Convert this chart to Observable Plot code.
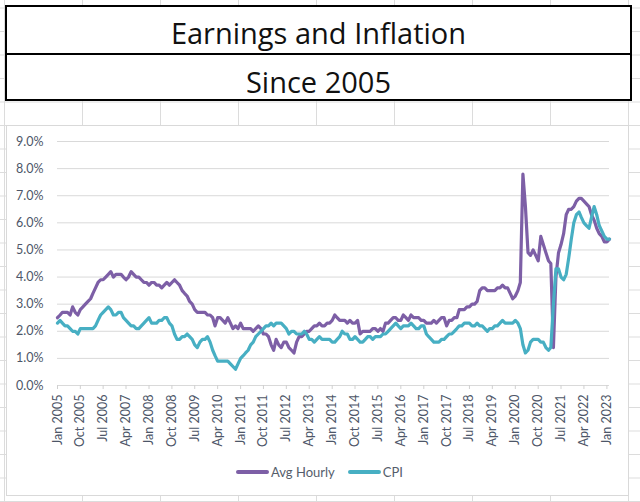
<!DOCTYPE html>
<html>
<head>
<meta charset="utf-8">
<script src="https://cdn.jsdelivr.net/npm/d3@7"></script>
<script src="https://cdn.jsdelivr.net/npm/@observablehq/plot@0.6"></script>
<style>
  html, body { margin: 0; padding: 0; }
  body {
    width: 640px; height: 502px; position: relative; overflow: hidden; background: #fff;
    background-image:
      linear-gradient(to right, #dcdcdc 1px, transparent 1px),
      linear-gradient(to bottom, #dcdcdc 1px, transparent 1px);
    background-size: 78px 23.5px;
    background-position: 4px 7.5px;
  }
  #title {
    position: absolute; left: 5px; top: 5px; width: 623px; height: 92px;
    border: 2px solid #000; background: #fff; font-family: "Open Sans", sans-serif; color: #111;
  }
  #title .row { text-align: center; font-size: 29px; overflow: visible; }
  #t1 { height: 46px; line-height: 52px; }
  #t2 { height: 44px; line-height: 53px; border-top: 2px solid #000; }
  #chart {
    position: absolute; left: 6px; top: 125px; width: 621px; height: 369px;
    background: #fff; border: 1px solid #d9d9d9;
  }
  #plot { position: absolute; left: -1px; top: -1px; }
  #legend {
    position: absolute; left: 236px; top: 464px; display: flex; align-items: center;
    font-family: Lato, sans-serif; font-size: 13px; color: #555d6b;
  }
  .sw { width: 33px; height: 3.5px; border-radius: 2px; margin-right: 2px; }
  .item { display: flex; align-items: center; }
  .item + .item { margin-left: 13px; }
</style>
</head>
<body>
<div id="title">
  <div class="row" id="t1">Earnings and Inflation</div>
  <div class="row" id="t2">Since 2005</div>
</div>
<div id="chart"><div id="plot"></div></div>
<div id="legend"></div>
<script>
// Monthly year-over-year % change, Jan 2005 .. Feb 2023
const startYear = 2005;
const avgHourly = [
  2.5, 2.6, 2.7, 2.7, 2.7, 2.6, 2.9, 2.7, 2.6, 2.8, 2.9, 3.0, // 2005
  3.1, 3.2, 3.4, 3.6, 3.8, 3.9, 3.9, 4.0, 4.1, 4.2, 4.0, 4.1, // 2006
  4.1, 4.1, 4.0, 3.9, 4.0, 4.2, 4.1, 4.0, 4.0, 3.9, 3.8, 3.8, // 2007
  3.7, 3.8, 3.8, 3.7, 3.7, 3.6, 3.7, 3.8, 3.7, 3.8, 3.9, 3.8, // 2008
  3.7, 3.5, 3.4, 3.3, 3.1, 3.0, 2.8, 2.7, 2.7, 2.7, 2.7, 2.6, // 2009
  2.6, 2.5, 2.2, 2.5, 2.5, 2.4, 2.3, 2.5, 2.3, 2.1, 2.2, 2.1, // 2010
  2.3, 2.1, 2.1, 2.1, 2.1, 2.0, 2.1, 2.2, 2.1, 1.9, 1.9, 1.8, // 2011
  1.5, 1.3, 1.7, 1.5, 1.4, 1.6, 1.6, 1.4, 1.3, 1.2, 1.6, 1.8, // 2012
  1.8, 1.9, 2.0, 2.0, 2.1, 2.2, 2.2, 2.3, 2.2, 2.2, 2.3, 2.3, // 2013
  2.4, 2.6, 2.5, 2.4, 2.4, 2.4, 2.3, 2.4, 2.3, 2.3, 2.4, 1.9, // 2014
  2.0, 2.0, 2.0, 2.0, 2.1, 2.1, 2.0, 2.1, 2.0, 2.3, 2.3, 2.4, // 2015
  2.5, 2.5, 2.4, 2.4, 2.6, 2.5, 2.4, 2.6, 2.5, 2.5, 2.5, 2.4, // 2016
  2.4, 2.3, 2.3, 2.3, 2.4, 2.3, 2.4, 2.5, 2.5, 2.2, 2.4, 2.4, // 2017
  2.5, 2.5, 2.8, 2.8, 2.8, 2.9, 2.9, 3.0, 3.0, 3.1, 3.5, 3.6, // 2018
  3.6, 3.5, 3.5, 3.5, 3.5, 3.6, 3.6, 3.7, 3.6, 3.6, 3.4, 3.2, // 2019
  3.3, 3.5, 3.8, 7.8, 6.6, 4.9, 4.8, 5.0, 4.8, 4.6, 5.5, 5.2, // 2020
  4.9, 4.6, 4.5, 1.4, 4.0, 4.9, 5.2, 5.6, 6.3, 6.5, 6.5, 6.6, // 2021
  6.8, 6.9, 6.9, 6.8, 6.7, 6.6, 6.3, 6.1, 5.8, 5.6, 5.5, 5.3, // 2022
  5.3, 5.4                                                    // 2023
];
const cpi = [
  2.3, 2.4, 2.3, 2.2, 2.2, 2.1, 2.0, 2.0, 1.9, 2.1, 2.1, 2.1, // 2005
  2.1, 2.1, 2.1, 2.2, 2.4, 2.6, 2.7, 2.8, 2.9, 2.8, 2.6, 2.6, // 2006
  2.7, 2.7, 2.5, 2.4, 2.3, 2.2, 2.2, 2.1, 2.1, 2.2, 2.3, 2.4, // 2007
  2.5, 2.3, 2.3, 2.3, 2.4, 2.4, 2.5, 2.5, 2.3, 2.2, 1.9, 1.7, // 2008
  1.7, 1.8, 1.8, 1.9, 1.8, 1.7, 1.5, 1.4, 1.6, 1.7, 1.7, 1.8, // 2009
  1.6, 1.3, 1.1, 0.9, 0.9, 0.9, 0.9, 0.9, 0.8, 0.7, 0.6, 0.8, // 2010
  1.0, 1.1, 1.2, 1.3, 1.5, 1.6, 1.8, 1.9, 2.0, 2.1, 2.2, 2.2, // 2011
  2.3, 2.2, 2.3, 2.3, 2.3, 2.2, 2.1, 1.9, 2.0, 2.0, 1.9, 1.9, // 2012
  1.9, 2.0, 1.9, 1.7, 1.7, 1.6, 1.7, 1.8, 1.7, 1.7, 1.7, 1.7, // 2013
  1.6, 1.6, 1.7, 1.8, 2.0, 1.9, 1.9, 1.7, 1.7, 1.8, 1.7, 1.6, // 2014
  1.6, 1.7, 1.8, 1.8, 1.7, 1.8, 1.8, 1.8, 1.9, 1.9, 2.0, 2.1, // 2015
  2.2, 2.3, 2.2, 2.1, 2.2, 2.2, 2.2, 2.3, 2.2, 2.1, 2.1, 2.2, // 2016
  2.2, 1.9, 1.8, 1.7, 1.6, 1.6, 1.6, 1.7, 1.7, 1.8, 1.9, 1.9, // 2017
  2.0, 2.1, 2.2, 2.2, 2.3, 2.3, 2.3, 2.2, 2.2, 2.3, 2.2, 2.2, // 2018
  2.1, 2.0, 2.1, 2.1, 2.2, 2.2, 2.3, 2.4, 2.3, 2.3, 2.3, 2.3, // 2019
  2.4, 2.3, 2.1, 1.5, 1.2, 1.3, 1.6, 1.7, 1.7, 1.7, 1.6, 1.6, // 2020
  1.4, 1.3, 1.4, 3.0, 4.3, 4.3, 4.0, 3.9, 4.1, 4.7, 5.4, 6.0, // 2021
  6.3, 6.4, 6.2, 6.0, 5.9, 5.8, 6.2, 6.6, 6.3, 5.9, 5.7, 5.5, // 2022
  5.4, 5.4                                                    // 2023
];
const seriesNames = ["Avg Hourly", "CPI"];
const seriesColors = ["#7d5fa6", "#47afc3"];
const xTickLabels = [
  "Jan 2005", "Oct 2005", "Jul 2006", "Apr 2007", "Jan 2008", "Oct 2008", "Jul 2009",
  "Apr 2010", "Jan 2011", "Oct 2011", "Jul 2012", "Apr 2013", "Jan 2014", "Oct 2014",
  "Jul 2015", "Apr 2016", "Jan 2017", "Oct 2017", "Jul 2018", "Apr 2019", "Jan 2020",
  "Oct 2020", "Jul 2021", "Apr 2022", "Jan 2023"
];
const yTicks = [0, 1, 2, 3, 4, 5, 6, 7, 8, 9];

const dates = avgHourly.map((_, i) => new Date(Date.UTC(startYear, i, 1)));
const rows = [
  ...avgHourly.map((v, i) => ({date: dates[i], value: v, series: seriesNames[0]})),
  ...cpi.map((v, i) => ({date: dates[i], value: v, series: seriesNames[1]}))
];
const parse = d3.utcParse("%b %Y");
const tickDates = xTickLabels.map(parse);

const chart = Plot.plot({
  width: 622, height: 335,
  marginLeft: 51, marginRight: 19, marginTop: 16, marginBottom: 75,
  style: {fontFamily: "Lato, sans-serif", fontSize: "12.5px", color: "#4d5668", background: "transparent"},
  x: {type: "utc", domain: [dates[0], dates[dates.length - 1]]},
  y: {domain: [0, 9]},
  color: {domain: seriesNames, range: seriesColors},
  marks: [
    Plot.gridY(yTicks, {stroke: "#d9d9d9", strokeOpacity: 1}),
    Plot.axisY(yTicks, {tickSize: 0, tickPadding: 14, tickFormat: d => d.toFixed(1) + "%", label: null}),
    Plot.axisX(tickDates, {tickSize: 4, tickPadding: 5, tickRotate: -90, tickFormat: d3.utcFormat("%b %Y"), label: null, stroke: "#d0d0d0"}),
    Plot.line(rows, {x: "date", y: "value", z: "series", stroke: "series", strokeWidth: 3.2, strokeLinejoin: "round", strokeLinecap: "round"})
  ]
});
document.getElementById("plot").appendChild(chart);

const legend = document.getElementById("legend");
seriesNames.forEach((name, i) => {
  const item = document.createElement("div");
  item.className = "item";
  const sw = document.createElement("div");
  sw.className = "sw";
  sw.style.background = seriesColors[i];
  const label = document.createElement("span");
  label.textContent = name;
  item.appendChild(sw);
  item.appendChild(label);
  legend.appendChild(item);
});
</script>
</body>
</html>
